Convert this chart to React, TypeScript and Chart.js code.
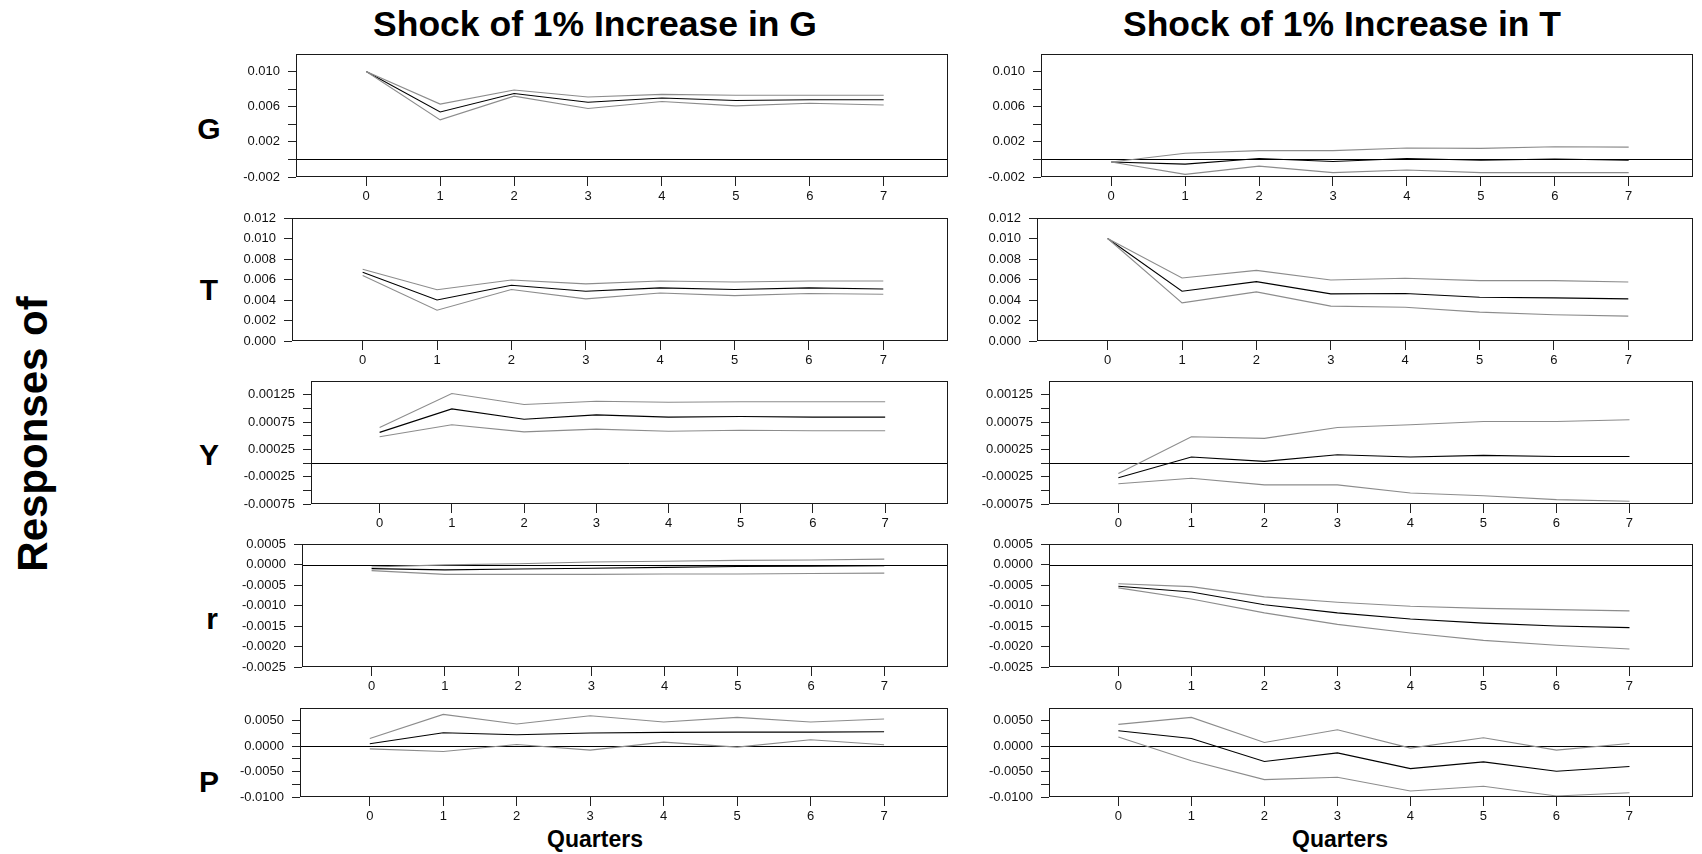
import React, { useEffect, useRef } from "react";
import { Chart, registerables } from "chart.js";

Chart.register(...registerables);

// ---------- data ----------
const QUARTERS = [0, 1, 2, 3, 4, 5, 6, 7];
const X_LABELS = ["0", "1", "2", "3", "4", "5", "6", "7"];
const SHOCK_TITLES = ["Shock of 1% Increase in G", "Shock of 1% Increase in T"];
const RESPONSE_NAMES = ["G", "T", "Y", "r", "P"];
const SIDE_TITLE = "Responses of";
const X_TITLE = "Quarters";

// Response of G
const G_G_MID = [0.01, 0.0054, 0.0075, 0.0065, 0.007, 0.0067, 0.0068, 0.0068];
const G_G_UP = [0.01, 0.0063, 0.0079, 0.0071, 0.0074, 0.0073, 0.0073, 0.0073];
const G_G_LO = [0.01, 0.0045, 0.0072, 0.0058, 0.0066, 0.0061, 0.0064, 0.0062];
const G_T_MID = [-0.0003, -0.00053, 0.0001, -0.00023, 0.0001, -0.0001, 0.00005, -0.0001];
const G_T_UP = [-0.0003, 0.0007, 0.001, 0.001, 0.0013, 0.00126, 0.00145, 0.0014];
const G_T_LO = [-0.0003, -0.0017, -0.00076, -0.0015, -0.0012, -0.0015, -0.0015, -0.0015];

// Response of T
const T_G_MID = [0.0067, 0.004, 0.00544, 0.00485, 0.00518, 0.00502, 0.00518, 0.00508];
const T_G_UP = [0.007, 0.005, 0.00595, 0.00557, 0.00586, 0.00576, 0.00586, 0.00586];
const T_G_LO = [0.00638, 0.003, 0.00502, 0.00411, 0.00469, 0.00443, 0.00463, 0.00456];
const T_T_MID = [0.01, 0.00485, 0.00579, 0.0046, 0.00463, 0.00427, 0.00421, 0.00411];
const T_T_UP = [0.01, 0.00615, 0.00689, 0.00595, 0.00612, 0.00589, 0.00589, 0.00576];
const T_T_LO = [0.01, 0.00372, 0.00479, 0.0034, 0.0033, 0.00282, 0.00256, 0.00243];

// Response of Y
const Y_G_MID = [0.00056, 0.00099, 0.0008, 0.00088, 0.00084, 0.00085, 0.00084, 0.00084];
const Y_G_UP = [0.00065, 0.00127, 0.00107, 0.00113, 0.00111, 0.00112, 0.00112, 0.00112];
const Y_G_LO = [0.00048, 0.0007, 0.00057, 0.00062, 0.00058, 0.0006, 0.00059, 0.00059];
const Y_T_MID = [-0.00027, 0.00011, 0.00003, 0.00015, 0.00011, 0.00014, 0.00012, 0.00012];
const Y_T_UP = [-0.00019, 0.00048, 0.00045, 0.00065, 0.0007, 0.00076, 0.00076, 0.00079];
const Y_T_LO = [-0.00038, -0.00028, -0.0004, -0.0004, -0.00055, -0.0006, -0.00067, -0.0007];

// Response of r
const R_G_MID = [-0.0001, -0.00013, -0.00011, -0.00009, -0.00007, -0.00005, -0.00004, -0.00003];
const R_G_UP = [-0.00006, -0.00001, 0.00002, 0.00006, 0.00008, 0.0001, 0.00011, 0.00013];
const R_G_LO = [-0.00015, -0.00024, -0.00024, -0.00024, -0.00023, -0.00023, -0.00022, -0.00021];
const R_T_MID = [-0.00053, -0.00067, -0.00098, -0.00118, -0.00133, -0.00143, -0.0015, -0.00154];
const R_T_UP = [-0.00047, -0.00054, -0.00079, -0.00092, -0.00102, -0.00107, -0.0011, -0.00113];
const R_T_LO = [-0.00057, -0.00084, -0.00118, -0.00146, -0.00167, -0.00185, -0.00197, -0.00206];

// Response of P
const P_G_MID = [0.00046, 0.00263, 0.00224, 0.00257, 0.0027, 0.00276, 0.00276, 0.00283];
const P_G_UP = [0.00151, 0.00625, 0.00434, 0.00599, 0.00474, 0.00566, 0.00474, 0.00533];
const P_G_LO = [-0.00053, -0.00105, 0.00033, -0.00079, 0.00079, -0.0002, 0.00125, 0.00026];
const P_T_MID = [0.00303, 0.00151, -0.00303, -0.00132, -0.00441, -0.00309, -0.00493, -0.00401];
const P_T_UP = [0.00428, 0.00566, 0.00072, 0.00322, -0.00039, 0.00164, -0.00079, 0.00053];
const P_T_LO = [0.00178, -0.00289, -0.00658, -0.00612, -0.00882, -0.00789, -0.0098, -0.00915];

// y-axis ranges, tick values and tick labels per response row
const G_RANGE = [-0.002, 0.012];
const G_TICKS = [-0.002, 0, 0.002, 0.004, 0.006, 0.008, 0.01];
const G_TICK_LABELS = ["-0.002", "", "0.002", "", "0.006", "", "0.010"];
const T_RANGE = [0, 0.012];
const T_TICKS = [0, 0.002, 0.004, 0.006, 0.008, 0.01, 0.012];
const T_TICK_LABELS = ["0.000", "0.002", "0.004", "0.006", "0.008", "0.010", "0.012"];
const Y_RANGE = [-0.00075, 0.0015];
const Y_TICKS = [-0.00075, -0.0005, -0.00025, 0, 0.00025, 0.0005, 0.00075, 0.001, 0.00125];
const Y_TICK_LABELS = ["-0.00075", "", "-0.00025", "", "0.00025", "", "0.00075", "", "0.00125"];
const R_RANGE = [-0.0025, 0.0005];
const R_TICKS = [-0.0025, -0.002, -0.0015, -0.001, -0.0005, 0, 0.0005];
const R_TICK_LABELS = ["-0.0025", "-0.0020", "-0.0015", "-0.0010", "-0.0005", "0.0000", "0.0005"];
const P_RANGE = [-0.01, 0.0075];
const P_TICKS = [-0.01, -0.0075, -0.005, -0.0025, 0, 0.0025, 0.005];
const P_TICK_LABELS = ["-0.0100", "", "-0.0050", "", "0.0000", "", "0.0050"];

const X_RANGE = [-0.95, 7.87];

// ---------- layout / style ----------
const FONT = "'Liberation Sans', Arial, Helvetica, sans-serif";
const GRAY = "#8c8c8c";
const INK = "#111";
const ROW_TOPS = [54, 218, 381, 544, 708];
const ROW_BOTTOMS = [177, 341, 504, 667, 797];
const LEFT_BOX_LEFTS = [296, 292, 311, 302, 300];
const RIGHT_BOX_LEFTS = [1041, 1037, 1049, 1049, 1049];
const LEFT_BOX_RIGHT = 948;
const RIGHT_BOX_RIGHT = 1693;
const ROW_LABEL_POS = [
  [209, 129],
  [209, 290],
  [209, 455],
  [212, 619],
  [209, 782],
];

const AXW = 70; // y-axis width
const Y_TICK_PAD = 8;
const LABEL_LH = 16; // tick label line height (px)
// Chart.js reserves half a label height plus the tick padding above the plot area
const TOP_OFF = LABEL_LH / 2 + Y_TICK_PAD;
const PR = 5;
const XH = 28;

const framePlugin = {
  id: "irfFrame",
  beforeDatasetsDraw(chart: any) {
    const { ctx, chartArea: a, scales } = chart;
    const y = scales.y;
    if (y.min < 0 && y.max > 0) {
      const py = Math.round(y.getPixelForValue(0)) + 0.5;
      ctx.save();
      ctx.strokeStyle = "#000";
      ctx.lineWidth = 1;
      ctx.beginPath();
      ctx.moveTo(a.left, py);
      ctx.lineTo(a.right, py);
      ctx.stroke();
      ctx.restore();
    }
  },
  afterDraw(chart: any) {
    const { ctx, chartArea: a } = chart;
    ctx.save();
    ctx.strokeStyle = "#1a1a1a";
    ctx.lineWidth = 1;
    const l = Math.round(a.left) + 0.5;
    const t = Math.round(a.top) + 0.5;
    const r = Math.round(a.right) - 0.5;
    const b = Math.round(a.bottom) - 0.5;
    ctx.strokeRect(l, t, r - l, b - t);
    ctx.restore();
  },
};

type PanelProps = {
  mid: number[];
  up: number[];
  lo: number[];
  range: number[];
  ticks: number[];
  tickLabels: string[];
  left: number;
  right: number;
  top: number;
  bottom: number;
};

function Panel(props: PanelProps) {
  const ref = useRef<HTMLCanvasElement | null>(null);
  const { mid, up, lo, range, ticks, tickLabels, left, right, top, bottom } = props;
  const w = AXW + (right - left) + PR;
  const h = TOP_OFF + (bottom - top) + XH;

  useEffect(() => {
    if (!ref.current) return;
    const toXY = (arr: number[]) => arr.map((v, i) => ({ x: QUARTERS[i], y: v }));
    const line = (arr: number[], color: string) => ({
      data: toXY(arr),
      borderColor: color,
      borderWidth: 1.1,
      pointRadius: 0,
      tension: 0,
      fill: false,
    });
    const chart = new Chart(ref.current, {
      type: "line",
      data: {
        datasets: [line(up, GRAY), line(lo, GRAY), line(mid, "#000")],
      },
      options: {
        animation: false,
        responsive: false,
        events: [],
        layout: { padding: { top: 0, right: PR, left: 0, bottom: 0 } },
        plugins: {
          legend: { display: false },
          tooltip: { enabled: false },
        },
        scales: {
          x: {
            type: "linear",
            min: X_RANGE[0],
            max: X_RANGE[1],
            afterBuildTicks: (s: any) => {
              s.ticks = QUARTERS.map((v) => ({ value: v }));
            },
            afterFit: (s: any) => {
              s.height = XH;
            },
            ticks: {
              autoSkip: false,
              maxRotation: 0,
              padding: 2,
              color: INK,
              font: { family: FONT, size: 13, lineHeight: LABEL_LH + "px" },
              callback: (v: any) => {
                const i = QUARTERS.indexOf(Number(v));
                return i >= 0 ? X_LABELS[i] : "";
              },
            },
            grid: { drawOnChartArea: false, tickLength: 9, color: "#222", lineWidth: 1 },
            border: { display: false },
          },
          y: {
            type: "linear",
            min: range[0],
            max: range[1],
            afterBuildTicks: (s: any) => {
              s.ticks = ticks.map((v) => ({ value: v }));
            },
            afterFit: (s: any) => {
              s.width = AXW;
            },
            ticks: {
              autoSkip: false,
              padding: Y_TICK_PAD,
              color: INK,
              font: { family: FONT, size: 13, lineHeight: LABEL_LH + "px" },
              callback: (_v: any, i: number) => tickLabels[i] ?? "",
            },
            grid: { drawOnChartArea: false, tickLength: 8, color: "#222", lineWidth: 1 },
            border: { display: false },
          },
        },
      },
      plugins: [framePlugin],
    } as any);
    return () => chart.destroy();
  }, []);

  return (
    <canvas
      ref={ref}
      width={w}
      height={h}
      style={{ position: "absolute", left: left - AXW, top: top - TOP_OFF, width: w, height: h }}
    />
  );
}

const ROWS = [
  { g: [G_G_MID, G_G_UP, G_G_LO], t: [G_T_MID, G_T_UP, G_T_LO], range: G_RANGE, ticks: G_TICKS, labels: G_TICK_LABELS },
  { g: [T_G_MID, T_G_UP, T_G_LO], t: [T_T_MID, T_T_UP, T_T_LO], range: T_RANGE, ticks: T_TICKS, labels: T_TICK_LABELS },
  { g: [Y_G_MID, Y_G_UP, Y_G_LO], t: [Y_T_MID, Y_T_UP, Y_T_LO], range: Y_RANGE, ticks: Y_TICKS, labels: Y_TICK_LABELS },
  { g: [R_G_MID, R_G_UP, R_G_LO], t: [R_T_MID, R_T_UP, R_T_LO], range: R_RANGE, ticks: R_TICKS, labels: R_TICK_LABELS },
  { g: [P_G_MID, P_G_UP, P_G_LO], t: [P_T_MID, P_T_UP, P_T_LO], range: P_RANGE, ticks: P_TICKS, labels: P_TICK_LABELS },
];

const centered = (x: number, y: number, size: number, extra: any = {}) => ({
  position: "absolute" as const,
  left: x,
  top: y,
  transform: "translate(-50%, -50%)",
  fontFamily: FONT,
  fontWeight: 700,
  fontSize: size,
  lineHeight: 1,
  whiteSpace: "nowrap" as const,
  color: "#000",
  ...extra,
});

export default function App() {
  return (
    <div
      style={{
        position: "absolute",
        left: 0,
        top: 0,
        width: 1702,
        height: 854,
        background: "#fff",
        overflow: "hidden",
      }}
    >
      <div style={centered(595, 25, 35.5)}>{SHOCK_TITLES[0]}</div>
      <div style={centered(1342, 25, 35.5)}>{SHOCK_TITLES[1]}</div>
      <div style={centered(33, 434, 42, { transform: "translate(-50%, -50%) rotate(-90deg)" })}>
        {SIDE_TITLE}
      </div>
      {RESPONSE_NAMES.map((n, i) => (
        <div key={n} style={centered(ROW_LABEL_POS[i][0], ROW_LABEL_POS[i][1], 30)}>
          {n}
        </div>
      ))}
      {ROWS.map((row, i) => (
        <React.Fragment key={i}>
          <Panel
            mid={row.g[0]}
            up={row.g[1]}
            lo={row.g[2]}
            range={row.range}
            ticks={row.ticks}
            tickLabels={row.labels}
            left={LEFT_BOX_LEFTS[i]}
            right={LEFT_BOX_RIGHT}
            top={ROW_TOPS[i]}
            bottom={ROW_BOTTOMS[i]}
          />
          <Panel
            mid={row.t[0]}
            up={row.t[1]}
            lo={row.t[2]}
            range={row.range}
            ticks={row.ticks}
            tickLabels={row.labels}
            left={RIGHT_BOX_LEFTS[i]}
            right={RIGHT_BOX_RIGHT}
            top={ROW_TOPS[i]}
            bottom={ROW_BOTTOMS[i]}
          />
        </React.Fragment>
      ))}
      <div style={centered(595, 839, 23)}>{X_TITLE}</div>
      <div style={centered(1340, 839, 23)}>{X_TITLE}</div>
    </div>
  );
}
